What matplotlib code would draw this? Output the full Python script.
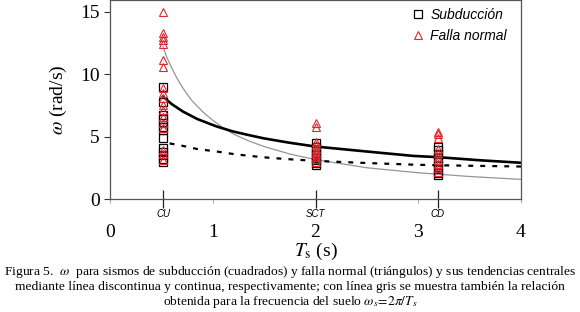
import matplotlib
matplotlib.use('Agg')
import matplotlib.pyplot as plt

plt.rcParams['font.family'] = ['Liberation Serif', 'DejaVu Serif']
plt.rcParams['mathtext.fontset'] = 'stix'

# site periods (s) and labels
site_T = [0.516, 2.0, 3.19]
site_names = ['CU', 'SCT', 'CD']

# omega values (rad/s) read per site
sub_cu = [9.0, 7.8, 6.7, 6.4, 6.1, 5.8, 5.5, 4.9, 4.1, 3.8, 3.5, 3.2, 3.0]
nor_cu = [15.0, 13.3, 13.0, 12.7, 12.4, 11.1, 10.6, 8.9, 8.5, 8.1, 7.5, 7.1,
          6.6, 6.1, 5.7, 3.9, 3.6, 3.1]
sub_sct = [4.5, 4.2, 3.9, 3.7, 3.5, 3.3, 3.1, 2.9, 2.7]
nor_sct = [6.1, 5.8, 4.6, 4.3, 4.0, 3.8, 3.6, 3.4, 3.2, 3.0]
sub_cd = [4.2, 3.9, 3.6, 3.3, 3.0, 2.7, 2.4, 2.1, 1.9]
nor_cd = [5.4, 5.2, 4.9, 4.0, 3.7, 3.4, 3.1, 2.8, 2.5, 2.2]

# central tendency curves
nor_T = [0.516, 0.6, 0.71, 0.85, 1.04, 1.2, 1.36, 1.5, 1.75, 2.0, 2.5, 2.95, 3.19, 3.6, 4.0]
nor_w = [8.2, 7.6, 7.0, 6.4, 5.8, 5.4, 5.1, 4.85, 4.5, 4.2, 3.8, 3.45, 3.35, 3.1, 2.9]
sub_T = [0.58, 0.71, 0.85, 1.04, 1.2, 1.36, 1.55, 1.75, 2.0, 2.5, 2.95, 3.2, 3.6, 4.0]
sub_w = [4.45, 4.25, 4.0, 3.8, 3.6, 3.45, 3.3, 3.18, 3.05, 2.88, 2.75, 2.7, 2.65, 2.6]

# ground frequency relation (grey)
soil_T = [0.516, 0.55, 0.6, 0.65, 0.7, 0.75, 0.8, 0.9, 1.0, 1.1, 1.2, 1.35, 1.5,
          1.75, 2.0, 2.5, 3.0, 3.5, 4.0]
soil_w = [12.2, 11.4, 10.5, 9.7, 9.0, 8.4, 7.85, 7.0, 6.3, 5.7, 5.2, 4.65, 4.2,
          3.6, 3.15, 2.5, 2.1, 1.8, 1.57]

red = '#e3262e'

fig = plt.figure(figsize=(5.8, 3.12), dpi=100)
ax = fig.add_axes([110 / 580, 1 - 199 / 312, 411 / 580, 199 / 312])

ax.plot(soil_T, soil_w, color='#959595', lw=0.9)
ax.plot(nor_T, nor_w, color='black', lw=1.9)
ax.plot(sub_T, sub_w, color='black', lw=1.6, linestyle=(0, (2.2, 3.2)))

subs = [sub_cu, sub_sct, sub_cd]
nors = [nor_cu, nor_sct, nor_cd]
for i, T in enumerate(site_T):
    ax.plot([T] * len(subs[i]), subs[i], 's', ms=6, mfc='none', mec='black',
            mew=0.9, label='Subducción' if i == 0 else None)
for i, T in enumerate(site_T):
    ax.plot([T] * len(nors[i]), nors[i], '^', ms=5.5, mfc='none', mec=red,
            mew=0.8, label='Falla normal' if i == 0 else None)

ax.set_xlim(0, 4)
ax.set_ylim(0, 15.93)
ax.set_yticks([0, 5, 10, 15])
ax.set_xticks([0, 1, 2, 3, 4])
ax.xaxis.remove_overlapping_locs = False
ax.tick_params(axis='y', labelsize=14, length=4.5, width=0.8, pad=3, color='#333333')
ax.tick_params(axis='x', which='major', labelsize=14, length=3, width=0.8,
               color='#b0b0b0', pad=15)
ax.set_xticks(site_T, minor=True)
ax.set_xticklabels(site_names, minor=True, fontsize=7, style='italic',
                   family='Liberation Sans')
ax.tick_params(axis='x', which='minor', direction='inout', length=13, width=0.9,
               color='#222222', pad=1)
for s in ax.spines.values():
    s.set_color('#555555')
    s.set_linewidth(0.9)

ax.set_ylabel(r'$\omega$ (rad/s)', fontsize=14, labelpad=8)
fig.text(316 / 580, 1 - 251 / 312, r'$T_{\rm s}$ (s)', fontsize=14,
         ha='center', va='center')

leg = ax.legend(loc='upper left', bbox_to_anchor=(0.72, 0.99), frameon=False,
                handletextpad=0.35, borderaxespad=0.0, labelspacing=0.55,
                handlelength=1.0,
                prop={'family': 'Liberation Sans', 'style': 'italic', 'size': 10})

caption = ('Figura 5.  $\\omega$  para sismos de subducción (cuadrados) y falla normal '
           '(triángulos) y sus tendencias centrales\n'
           'mediante línea discontinua y continua, respectivamente; con línea gris se '
           'muestra también la relación\n'
           'obtenida para la frecuencia del suelo $\\omega_s\\!=\\!2\\pi/T_s$')
fig.text(0.5, 1 - 287 / 312, caption, fontsize=9.7, ha='center', va='center',
         linespacing=1.12)

fig.savefig('out.png', dpi=100)
